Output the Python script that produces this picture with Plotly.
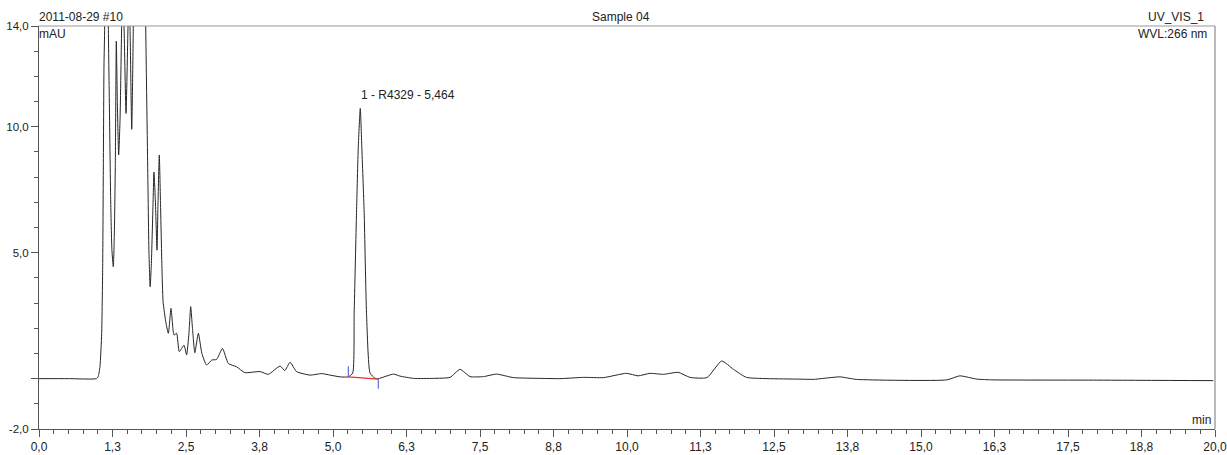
import plotly.graph_objects as go

# Retention time (min) and signal (mAU)
time_min = [
    0.00, 0.50, 0.98, 1.009, 1.037, 1.066, 1.083, 1.094, 1.105, 1.117, 1.145, 1.179,
    1.196, 1.219, 1.24, 1.264, 1.281, 1.298, 1.315, 1.332, 1.355, 1.378, 1.406, 1.42,
    1.446, 1.48, 1.514, 1.53, 1.548, 1.577, 1.604, 1.71, 1.815, 1.845, 1.87, 1.89,
    1.91, 1.94, 1.955, 1.98, 2.007, 2.024, 2.046, 2.066, 2.09, 2.11, 2.16, 2.20,
    2.245, 2.296, 2.34, 2.386, 2.466, 2.51, 2.55, 2.58, 2.61, 2.65, 2.71, 2.77,
    2.85, 2.94, 3.02, 3.12, 3.22, 3.36, 3.50, 3.76, 3.90, 4.10, 4.18, 4.27,
    4.38, 4.61, 4.81, 4.95, 5.12, 5.26, 5.335, 5.36, 5.40, 5.43, 5.464, 5.49,
    5.53, 5.57, 5.63, 5.71, 5.77, 6.03, 6.14, 6.37, 6.71, 6.99, 7.16, 7.33,
    7.56, 7.78, 8.07, 8.52, 8.86, 9.26, 9.60, 9.99, 10.19, 10.39, 10.62, 10.87,
    11.07, 11.36, 11.61, 11.81, 12.03, 12.38, 12.94, 13.17, 13.62, 13.90, 15.44, 15.66,
    15.95, 16.23, 18.00, 19.97,
]
signal_mau = [
    0.00, 0.00, 0.00, 0.10, 0.48, 1.80, 4.44, 8.40, 12.4, 14.0, 30.0, 14.0,
    11.06, 7.10, 5.10, 4.44, 5.70, 8.50, 13.4, 11.0, 8.88, 10.27, 14.0, 15.5,
    14.0, 10.53, 14.0, 15.5, 14.0, 9.90, 14.0, 40.0, 14.0, 9.00, 5.00, 3.65,
    4.50, 7.00, 8.20, 7.00, 5.10, 7.00, 8.88, 7.00, 4.50, 3.06, 2.20, 1.80,
    2.79, 1.73, 1.80, 1.07, 1.33, 0.94, 1.80, 2.86, 2.00, 1.03, 1.80, 1.00,
    0.54, 0.74, 0.76, 1.20, 0.60, 0.47, 0.24, 0.28, 0.17, 0.50, 0.32, 0.65,
    0.28, 0.14, 0.20, 0.14, 0.07, 0.07, 0.22, 2.60, 6.60, 9.20, 10.73, 9.20,
    6.60, 2.60, 0.22, 0.02, 0.00, 0.18, 0.10, 0.01, 0.01, 0.05, 0.37, 0.08,
    0.08, 0.18, 0.04, 0.01, 0.00, 0.05, 0.04, 0.21, 0.11, 0.21, 0.17, 0.25,
    0.05, 0.04, 0.70, 0.37, 0.05, 0.00, -0.02, -0.03, 0.07, -0.03, -0.05, 0.11,
    -0.02, -0.05, -0.06, -0.08,
]

# Integration of peak 1
peak_label = "1 - R4329 - 5,464"
peak_time = 5.464
peak_height = 10.73
base_start = (5.26, 0.07)
base_end = (5.77, -0.02)

# Axis ticks
x_tickvals = [0, 1.25, 2.5, 3.75, 5, 6.25, 7.5, 8.75, 10, 11.25, 12.5, 13.75, 15, 16.25, 17.5, 18.75, 20]
x_ticktext = ["0,0", "1,3", "2,5", "3,8", "5,0", "6,3", "7,5", "8,8", "10,0", "11,3", "12,5",
              "13,8", "15,0", "16,3", "17,5", "18,8", "20,0"]
y_tickvals = [-2, 0, 5, 10, 14]
y_ticktext = ["-2,0", "", "5,0", "10,0", "14,0"]

FONT = "Liberation Sans, Arial, sans-serif"
FS = 12
TXT = "#222222"
AX = "#555555"

fig = go.Figure()
fig.add_trace(go.Scatter(x=time_min, y=signal_mau, mode="lines",
                         line=dict(color="#262626", width=1, shape="spline", smoothing=0.5),
                         hoverinfo="skip", showlegend=False))
# baseline of integration (red)
fig.add_trace(go.Scatter(x=[base_start[0], base_end[0]], y=[base_start[1], base_end[1]],
                         mode="lines", line=dict(color="#e8302c", width=1.2),
                         showlegend=False, hoverinfo="skip"))
# delimiters (blue)
fig.add_trace(go.Scatter(x=[base_start[0], base_start[0]], y=[base_start[1], base_start[1] + 0.42],
                         mode="lines", line=dict(color="#3355cc", width=1),
                         showlegend=False, hoverinfo="skip"))
fig.add_trace(go.Scatter(x=[base_end[0], base_end[0]], y=[base_end[1], base_end[1] - 0.38],
                         mode="lines", line=dict(color="#3355cc", width=1),
                         showlegend=False, hoverinfo="skip"))

fig.add_annotation(x=peak_time, y=peak_height, text=peak_label, showarrow=False,
                   xanchor="left", yanchor="bottom", xshift=-1, yshift=4,
                   font=dict(family=FONT, size=FS, color=TXT))

fig.add_annotation(xref="paper", yref="paper", x=0, y=1, text="2011-08-29 #10", showarrow=False,
                   xanchor="left", yanchor="bottom", yshift=0, xshift=-2, font=dict(family=FONT, size=FS, color=TXT))
fig.add_annotation(xref="paper", yref="paper", x=0.495, y=1, text="Sample 04", showarrow=False,
                   xanchor="center", yanchor="bottom", yshift=0, font=dict(family=FONT, size=FS, color=TXT))
fig.add_annotation(xref="paper", yref="paper", x=0.9925, y=1, text="UV_VIS_1", showarrow=False,
                   xanchor="right", yanchor="bottom", yshift=0, font=dict(family=FONT, size=FS, color=TXT))
fig.add_annotation(xref="paper", yref="paper", x=0.9945, y=1, text="WVL:266 nm", showarrow=False,
                   xanchor="right", yanchor="top", yshift=1, font=dict(family=FONT, size=FS, color=TXT))
fig.add_annotation(xref="paper", yref="paper", x=0, y=1, text="mAU", showarrow=False,
                   xanchor="left", yanchor="top", yshift=1, xshift=-2, font=dict(family=FONT, size=FS, color=TXT))
fig.add_annotation(xref="paper", yref="paper", x=0.9985, y=0, text="min", showarrow=False,
                   xanchor="right", yanchor="bottom", yshift=0, font=dict(family=FONT, size=FS, color=TXT))

# top and right frame
fig.add_shape(type="line", xref="paper", yref="paper", x0=0, x1=1, y0=1, y1=1,
              line=dict(color="#999999", width=1))
fig.add_shape(type="line", xref="paper", yref="paper", x0=1, x1=1, y0=0, y1=1,
              line=dict(color="#777777", width=1))

fig.update_xaxes(range=[0, 20], tickvals=x_tickvals, ticktext=x_ticktext, automargin=False,
                 ticks="outside", ticklen=7, tickcolor=AX, tickwidth=1, ticklabeloverflow="allow",
                 showline=True, linecolor=AX, linewidth=1, showgrid=False, zeroline=False,
                 tickfont=dict(family=FONT, size=FS, color=TXT),
                 minor=dict(dtick=0.25, tick0=0, ticks="outside", ticklen=4, tickcolor=AX, showgrid=False))
fig.update_yaxes(range=[-2, 14], tickvals=y_tickvals, ticktext=y_ticktext, automargin=False,
                 ticks="outside", ticklen=7, tickcolor=AX, tickwidth=1, ticklabeloverflow="allow",
                 showline=True, linecolor=AX, linewidth=1, showgrid=False, zeroline=False,
                 tickfont=dict(family=FONT, size=11.5, color=TXT),
                 minor=dict(dtick=1, tick0=0, ticks="outside", ticklen=4, tickcolor=AX, showgrid=False))

fig.update_layout(width=1227, height=455, margin=dict(l=39, r=12, t=26, b=26),
                  paper_bgcolor="white", plot_bgcolor="white", showlegend=False)

# remove the browser's default 8px body margin so the figure fills the window exactly
fig.write_html("out.html", config={"displayModeBar": False},
               post_script="document.body.style.margin='0px';")
